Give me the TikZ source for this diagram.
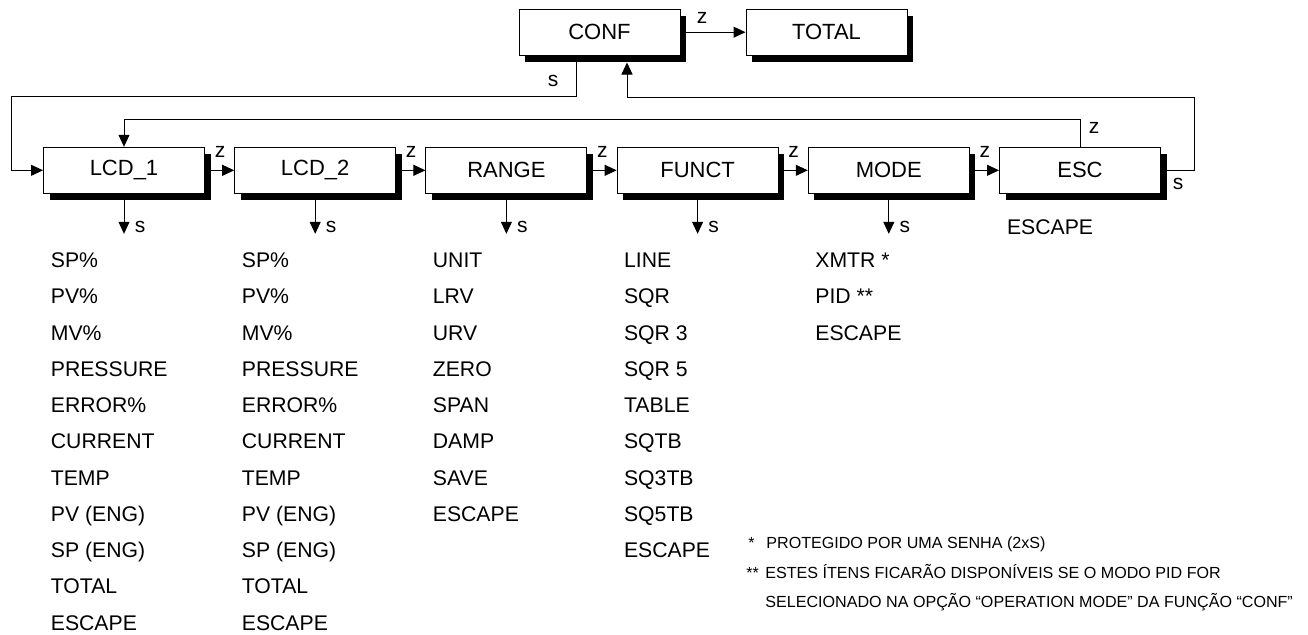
\documentclass[tikz,border=0pt]{standalone}
\usepackage{fontspec}
\setmainfont{Liberation Sans}
\usetikzlibrary{arrows.meta,positioning,shadows}
\tikzset{
  menubox/.style={draw=black,fill=white,line width=0.5pt,
                  minimum width=80.5pt,minimum height=23pt,inner sep=0pt,
                  font=\fontsize{11}{13}\selectfont,
                  general shadow={fill=black,shadow xshift=3pt,shadow yshift=-3.3pt}},
  arr/.style={-{Triangle[length=6pt,width=5.5pt]},line width=0.5pt},
  keylbl/.style={inner sep=0pt,font=\fontsize{10.5}{12}\selectfont},
  item/.style={anchor=base west,inner sep=0pt,font=\fontsize{10.6}{12}\selectfont},
  note/.style={anchor=base west,inner sep=0pt,font=\fontsize{8.05}{9}\selectfont}
}

\begin{document}
\begin{tikzpicture}[x=0.5pt,y=-0.5pt]
    \path[use as bounding box] (0,0) rectangle (1308,634);

    % top level
    \node[menubox] (conf) at (599.5,32.2) {CONF};
    \node[menubox] (total) at (826.5,32.2) {TOTAL};
    \draw[arr] (conf) -- (total);
    \node[keylbl] (z-conf) at (702,18) {z};

    % menu row
    \foreach \name/\lbl [count=\i from 0] in
      {lcd1/LCD\_1,lcd2/LCD\_2,range/RANGE,funct/FUNCT,mode/MODE,esc/ESC}{
      \node[menubox] (\name) at (124+191.2*\i,170.3) {\lbl};
    }
    \foreach \a/\b in {lcd1/lcd2,lcd2/range,range/funct,funct/mode,mode/esc}{
      \draw[arr] (\a) -- (\b);
      \node[keylbl] (z-\a) at ([shift={(15,-18)}]\a.east) {z};
      \draw[arr] (\a.south) -- ++(0,40) coordinate (\a-tip);
      \node[keylbl] (s-\a) at ([shift={(16,-6.6)}]\a-tip) {s};
    }

    % loops
    \draw[arr] ([xshift=-11.75pt]conf.south) |- (11.7,96.7) |- (lcd1.west);
    \node[keylbl] (s-conf) at (553,81) {s};
    \draw[arr,shorten >=3.4pt] (esc.east) -| (1194.7,97) -| ([xshift=13.75pt]conf.south);
    \node[keylbl] (s-esc) at (1178,184) {s};
    \draw[arr] (esc.north) |- ([yshift=13.65pt]lcd1.north) -- (lcd1.north);
    \node[keylbl] (z-esc) at (1094,128) {z};
    \node[item] (esc-out) at (1006.7,234.5) {ESCAPE};

    % sub menus
    \foreach \col in {50.5,241.5}{
      \foreach \txt [count=\j from 0] in
        {SP\%,PV\%,MV\%,PRESSURE,ERROR\%,CURRENT,TEMP,PV (ENG),SP (ENG),TOTAL,ESCAPE}{
        \node[item] (lcd-\col-\j) at (\col,267.5+36.27*\j) {\txt};
      }
    }
    \foreach \txt [count=\j from 0] in {UNIT,LRV,URV,ZERO,SPAN,DAMP,SAVE,ESCAPE}{
      \node[item] (range-\j) at (432.5,267.5+36.27*\j) {\txt};
    }
    \foreach \txt [count=\j from 0] in
      {LINE,SQR,SQR 3,SQR 5,TABLE,SQTB,SQ3TB,SQ5TB,ESCAPE}{
      \node[item] (funct-\j) at (623.7,267.5+36.27*\j) {\txt};
    }
    \foreach \txt [count=\j from 0] in {XMTR *,PID **,ESCAPE}{
      \node[item] (mode-\j) at (815,267.5+36.27*\j) {\txt};
    }

    % notes
    \node[note] (star1) at (748,548.7) {*};
    \node[note] (note1) at (766,548.7) {PROTEGIDO POR UMA SENHA (2xS)};
    \node[note] (star2) at (746,578.7) {**};
    \node[note] (note2) at (765,578.7) {ESTES ÍTENS FICARÃO DISPONÍVEIS SE O MODO PID FOR};
    \node[note] (note3) at (765,607.7) {SELECIONADO NA OPÇÃO “OPERATION MODE” DA FUNÇÃO “CONF”};
\end{tikzpicture}
\end{document}
